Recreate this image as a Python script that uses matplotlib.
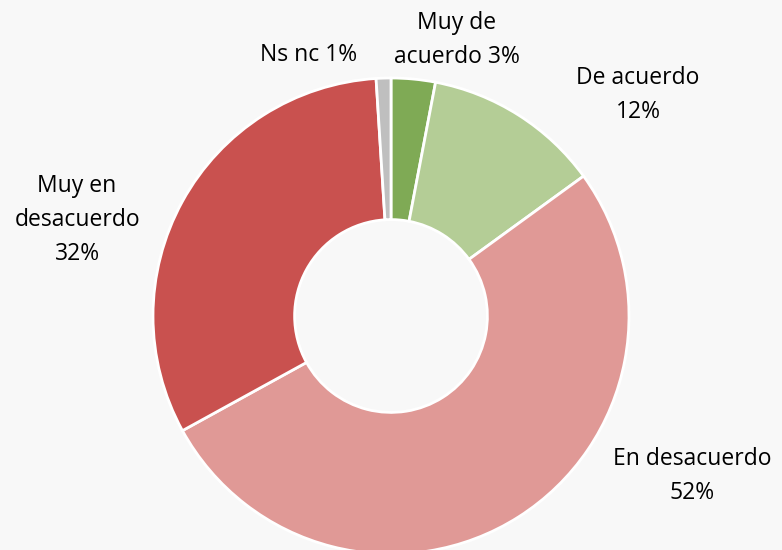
import matplotlib
matplotlib.use("Agg")
import matplotlib.pyplot as plt

categories = ["Muy de\nacuerdo", "De acuerdo", "En desacuerdo", "Muy en\ndesacuerdo", "Ns nc"]
values = [3, 12, 52, 32, 1]
label_texts = ["Muy de\nacuerdo 3%", "De acuerdo\n12%", "En desacuerdo\n52%", "Muy en\ndesacuerdo\n32%", "Ns nc 1%"]
colors = ["#7faa55", "#b4cd96", "#e09996", "#c9514f", "#bfbfbf"]
label_pos = [(0.277, 1.160), (1.038, 0.929), (1.265, -0.672), (-1.319, 0.403), (-0.345, 1.097)]

W, H = 782, 550
cx, cy, R = 391, 316, 238
fig = plt.figure(figsize=(W / 100, H / 100), dpi=100)
fig.patch.set_facecolor("#f8f8f8")
ax = fig.add_axes([0, 0, 1, 1])
ax.set_facecolor("#f8f8f8")
ax.pie(values, colors=colors, startangle=90, counterclock=False, radius=1,
       wedgeprops=dict(width=0.595, edgecolor="white", linewidth=2))
ax.set_xlim(-cx / R, (W - cx) / R)
ax.set_ylim(-(H - cy) / R, cy / R)
ax.set_aspect("auto")
ax.axis("off")
for t, (x, y) in zip(label_texts, label_pos):
    ax.text(x, y, t, ha="center", va="center", fontsize=16.5, color="#000000",
            family="Open Sans", linespacing=1.55)
fig.savefig("out.png", dpi=100, facecolor=fig.get_facecolor())
